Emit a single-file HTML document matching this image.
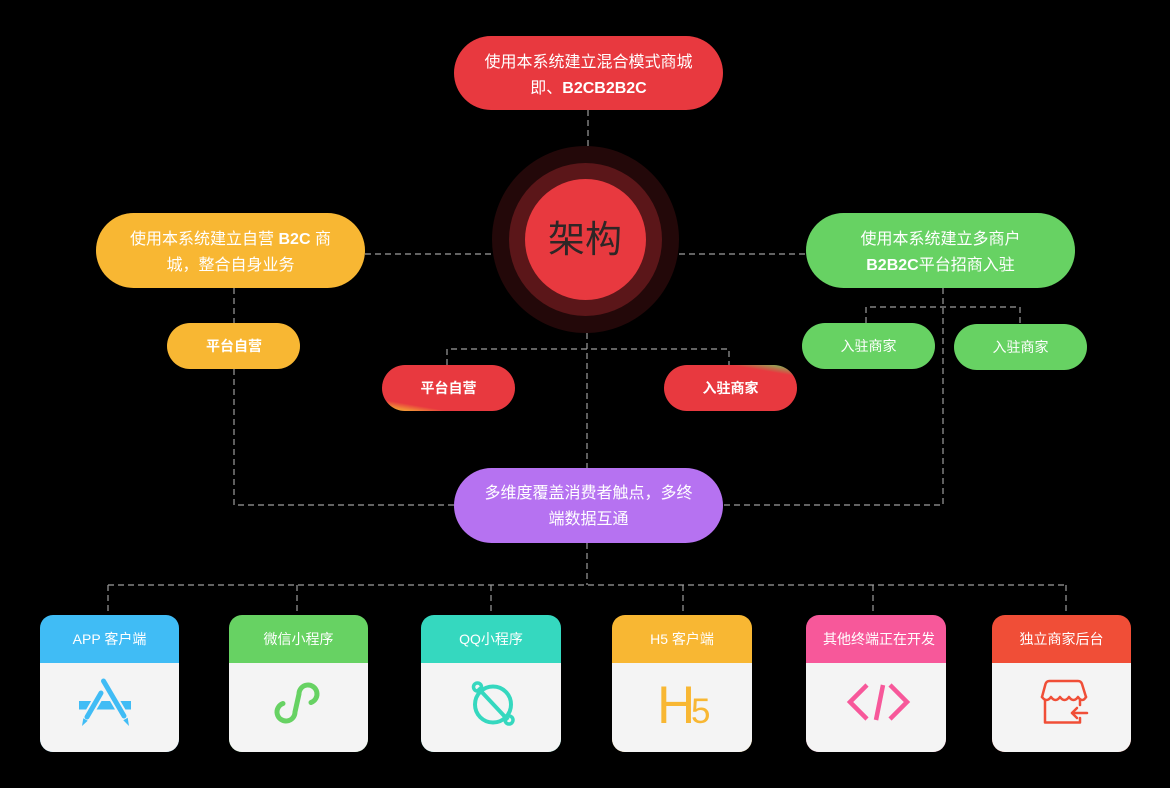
<!DOCTYPE html>
<html>
<head>
<meta charset="utf-8">
<style>
html,body{margin:0;padding:0;background:#000;width:1170px;height:788px;overflow:hidden}
svg{display:block}
text{font-family:"Liberation Sans","Noto Sans CJK SC",sans-serif}
</style>
</head>
<body>
<svg width="1170" height="788" viewBox="0 0 1170 788" xmlns="http://www.w3.org/2000/svg">
<defs>
<linearGradient id="gL" x1="0" y1="1" x2="0.5" y2="0">
<stop offset="0" stop-color="#f8b733"/>
<stop offset="0.1" stop-color="#f08a38"/>
<stop offset="0.2" stop-color="#e8393f"/>
<stop offset="1" stop-color="#e8393f"/>
</linearGradient>
<linearGradient id="gR" x1="1" y1="0" x2="0.5" y2="1">
<stop offset="0" stop-color="#67d263"/>
<stop offset="0.1" stop-color="#a88a50"/>
<stop offset="0.2" stop-color="#e8393f"/>
<stop offset="1" stop-color="#e8393f"/>
</linearGradient>
</defs>
<rect width="1170" height="788" fill="#000"/>

<!-- dashed connectors -->
<g stroke="#9c9c9c" stroke-width="1.2" stroke-dasharray="6 4" fill="none">
<line x1="588" y1="110" x2="588" y2="147"/>
<line x1="365" y1="254" x2="492" y2="254"/>
<line x1="679" y1="254" x2="806" y2="254"/>
<line x1="234" y1="288" x2="234" y2="323"/>
<polyline points="234,369 234,505 454,505"/>
<polyline points="943,288 943,505 723,505"/>
<polyline points="866,323 866,307 1020,307 1020,324"/>
<line x1="587" y1="333" x2="587" y2="468"/>
<polyline points="447,365 447,349 729,349 729,365"/>
<line x1="587" y1="543" x2="587" y2="585"/>
<line x1="108" y1="585" x2="1066" y2="585"/>
<line x1="108" y1="585" x2="108" y2="613"/>
<line x1="297" y1="585" x2="297" y2="613"/>
<line x1="491" y1="585" x2="491" y2="613"/>
<line x1="683" y1="585" x2="683" y2="613"/>
<line x1="873" y1="585" x2="873" y2="613"/>
<line x1="1066" y1="585" x2="1066" y2="613"/>
</g>

<!-- top box -->
<rect x="454" y="36" width="269" height="74" rx="37" fill="#e8393f"/>
<text x="588.5" y="67" font-size="16" fill="#fff" text-anchor="middle">使用本系统建立混合模式商城</text>
<text x="588.5" y="93" font-size="16" fill="#fff" text-anchor="middle">即、<tspan font-weight="bold">B2CB2B2C</tspan></text>

<!-- center circle -->
<circle cx="585.5" cy="239.5" r="93.5" fill="#230809"/>
<circle cx="585.5" cy="239.5" r="76.5" fill="#5b1619"/>
<circle cx="585.5" cy="239.5" r="60.5" fill="#e8393f"/>
<text x="585" y="252" font-size="37" fill="#2e2626" text-anchor="middle">架构</text>

<!-- left yellow -->
<rect x="96" y="213" width="269" height="75" rx="37.5" fill="#f8b733"/>
<text x="230.5" y="244" font-size="16" fill="#fff" text-anchor="middle">使用本系统建立自营 <tspan font-weight="bold">B2C</tspan> 商</text>
<text x="230.5" y="270" font-size="16" fill="#fff" text-anchor="middle">城，整合自身业务</text>
<rect x="167" y="323" width="133" height="46" rx="23" fill="#f8b733"/>
<text x="234" y="351" font-size="14" fill="#fff" font-weight="bold" text-anchor="middle">平台自营</text>

<!-- right green -->
<rect x="806" y="213" width="269" height="75" rx="37.5" fill="#67d263"/>
<text x="940.5" y="244" font-size="16" fill="#fff" text-anchor="middle">使用本系统建立多商户</text>
<text x="940.5" y="270" font-size="16" fill="#fff" text-anchor="middle"><tspan font-weight="bold">B2B2C</tspan>平台招商入驻</text>
<rect x="802" y="323" width="133" height="46" rx="23" fill="#67d263"/>
<text x="868.5" y="351" font-size="14" fill="#fff" text-anchor="middle">入驻商家</text>
<rect x="954" y="324" width="133" height="46" rx="23" fill="#67d263"/>
<text x="1020.5" y="352" font-size="14" fill="#fff" text-anchor="middle">入驻商家</text>

<!-- red small boxes -->
<rect x="382" y="365" width="133" height="46" rx="23" fill="url(#gL)"/>
<text x="448.5" y="393" font-size="14" fill="#fff" font-weight="bold" text-anchor="middle">平台自营</text>
<rect x="664" y="365" width="133" height="46" rx="23" fill="url(#gR)"/>
<text x="730.5" y="393" font-size="14" fill="#fff" font-weight="bold" text-anchor="middle">入驻商家</text>

<!-- purple -->
<rect x="454" y="468" width="269" height="75" rx="37.5" fill="#b672f1"/>
<text x="588.5" y="498" font-size="16" fill="#fff" text-anchor="middle">多维度覆盖消费者触点，多终</text>
<text x="588.5" y="524" font-size="16" fill="#fff" text-anchor="middle">端数据互通</text>

<!-- cards -->
<g>
<rect x="40" y="615" width="139" height="137" rx="13" fill="#40bcf5"/>
<rect x="40" y="663" width="139" height="89" rx="13" fill="#f4f4f4"/>
<rect x="40" y="663" width="139" height="20" fill="#f4f4f4"/>
<text x="109.5" y="644" font-size="14" fill="#fff" text-anchor="middle">APP 客户端</text>

<rect x="229" y="615" width="139" height="137" rx="13" fill="#67d263"/>
<rect x="229" y="663" width="139" height="89" rx="13" fill="#f4f4f4"/>
<rect x="229" y="663" width="139" height="20" fill="#f4f4f4"/>
<text x="298.5" y="644" font-size="14" fill="#fff" text-anchor="middle">微信小程序</text>

<rect x="421" y="615" width="140" height="137" rx="13" fill="#35d8bf"/>
<rect x="421" y="663" width="140" height="89" rx="13" fill="#f4f4f4"/>
<rect x="421" y="663" width="140" height="20" fill="#f4f4f4"/>
<text x="491" y="644" font-size="14" fill="#fff" text-anchor="middle">QQ小程序</text>

<rect x="612" y="615" width="140" height="137" rx="13" fill="#f8b733"/>
<rect x="612" y="663" width="140" height="89" rx="13" fill="#f4f4f4"/>
<rect x="612" y="663" width="140" height="20" fill="#f4f4f4"/>
<text x="682" y="644" font-size="14" fill="#fff" text-anchor="middle">H5 客户端</text>

<rect x="806" y="615" width="140" height="137" rx="13" fill="#f7589a"/>
<rect x="806" y="663" width="140" height="89" rx="13" fill="#f4f4f4"/>
<rect x="806" y="663" width="140" height="20" fill="#f4f4f4"/>
<text x="879" y="644" font-size="14" fill="#fff" text-anchor="middle">其他终端正在开发</text>

<rect x="992" y="615" width="139" height="137" rx="13" fill="#f04e37"/>
<rect x="992" y="663" width="139" height="89" rx="13" fill="#f4f4f4"/>
<rect x="992" y="663" width="139" height="20" fill="#f4f4f4"/>
<text x="1061.5" y="644" font-size="14" fill="#fff" text-anchor="middle">独立商家后台</text>
</g>

<!-- App Store icon -->
<g>
<rect x="79" y="701" width="52" height="8.5" fill="#40bcf5"/>
<line x1="103.5" y1="681" x2="124" y2="716" stroke="#f4f4f4" stroke-width="9"/>
<line x1="101" y1="693" x2="87" y2="717" stroke="#f4f4f4" stroke-width="9"/>
<line x1="103.5" y1="681" x2="124" y2="716" stroke="#40bcf5" stroke-width="5" stroke-linecap="round"/>
<line x1="101" y1="693" x2="87" y2="717" stroke="#40bcf5" stroke-width="5" stroke-linecap="round"/>
<polygon points="127.7,717.7 123.3,720.3 129,726" fill="#40bcf5"/>
<polygon points="87.7,720.8 83.3,718.2 82,726" fill="#40bcf5"/>
</g>

<!-- Mini program icon -->
<path d="M311 702.5 A9 9 0 1 0 299 694 L295 712 A9 9 0 1 1 283 703.5" fill="none" stroke="#67d263" stroke-width="5" stroke-linecap="round" stroke-linejoin="round"/>

<!-- QQ planet icon -->
<g fill="none" stroke="#35d8bf" stroke-width="4">
<circle cx="493" cy="704.5" r="18"/>
<line x1="478" y1="688" x2="508" y2="720"/>
<circle cx="477.5" cy="687" r="4" stroke-width="3.5"/>
<circle cx="509" cy="720" r="4" stroke-width="3.5"/>
</g>

<!-- H5 -->
<text x="657" y="723" font-size="53" fill="#f8b733">H</text>
<text x="691" y="723" font-size="35" fill="#f8b733">5</text>

<!-- code icon -->
<g fill="none" stroke="#f7589a" stroke-width="4.5">
<polyline points="867,685 850,702 867,719"/>
<polyline points="890,685 907,702 890,719"/>
<line x1="883" y1="685" x2="876" y2="720"/>
</g>

<!-- store icon -->
<g fill="none" stroke="#f04e37" stroke-width="2.5" stroke-linecap="round" stroke-linejoin="round">
<path d="M1042 697 L1045.5 684 Q1046.5 681 1049.5 681 L1078 681 Q1081 681 1082 684 L1086 697"/>
<path d="M1042 697 Q1046.5 703 1051 697 Q1055.5 703 1060 697 Q1064.5 703 1069 697 Q1073.5 703 1078 697 Q1082.5 703 1086 697"/>
<path d="M1045 700 L1045 722.5 L1080 722.5 L1080 718"/>
<line x1="1080" y1="700" x2="1080" y2="705"/>
<line x1="1072" y1="713" x2="1087" y2="713"/>
<polyline points="1077,708 1072,713 1077,718"/>
</g>
</svg>
</body>
</html>
